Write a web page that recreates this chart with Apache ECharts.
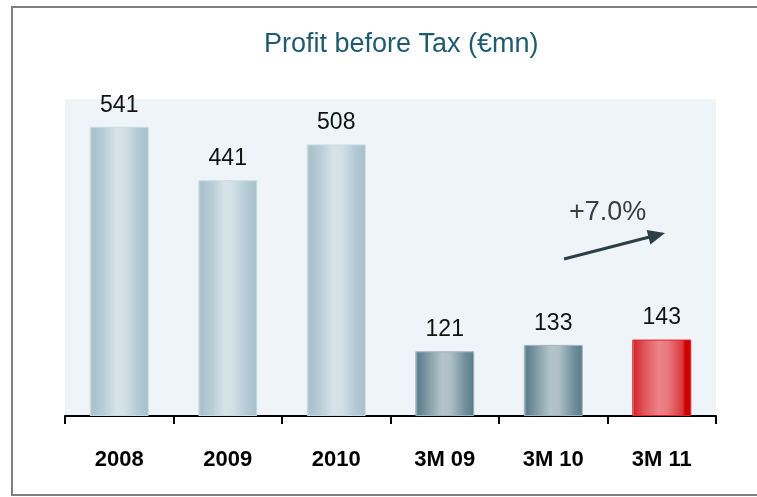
<!DOCTYPE html>
<html>
<head>
<meta charset="utf-8">
<title>Profit before Tax</title>
<script src="https://cdn.jsdelivr.net/npm/echarts@6/dist/echarts.min.js"></script>
<style>
  html, body { margin: 0; padding: 0; background: #fff; }
  #chart { width: 757px; height: 497px; }
</style>
</head>
<body>
<div id="chart"></div>
<script>
// data
const categories = ['2008', '2009', '2010', '3M 09', '3M 10', '3M 11']
const profit = [541, 441, 508, 121, 133, 143]
const growthLabel = '+7.0%'

// bar fills
const gradient = stops => ({
  type: 'linear', x: 0, y: 0, x2: 1, y2: 0,
  colorStops: stops.map(s => ({ offset: s[0], color: s[1] }))
})
const annualFill = gradient([
  [0, '#c4d6dd'], [0.05, '#a7c1cb'], [0.25, '#b9cfd8'], [0.45, '#d6e4ea'],
  [0.6, '#d2e0e6'], [0.8, '#b6ccd5'], [1, '#a5bfc9']
])
const quarterFill = gradient([
  [0, '#a9bec6'], [0.05, '#5b7f8e'], [0.2, '#7e98a3'], [0.45, '#b3c5cb'],
  [0.6, '#aebfc6'], [0.85, '#6f8e9b'], [1, '#587c8b']
])
const latestFill = gradient([
  [0, '#f2a8ac'], [0.04, '#d42a30'], [0.2, '#e0545a'], [0.45, '#ec8489'],
  [0.6, '#e8787d'], [0.85, '#d83a40'], [0.9, '#d00000'], [1, '#d00000']
])

const barData = profit.map((v, i) => {
  let fill = i < 3 ? annualFill : quarterFill
  let border = i < 3 ? '#c9dbe2' : '#9fb5be'
  if (i === profit.length - 1) { fill = latestFill; border = '#e0262c' }
  return { value: v, itemStyle: { color: fill, borderColor: border, borderWidth: 1 } }
})

// arrow geometry (annotation only)
const a0 = [564, 259], tip = [665, 233]
const dx = tip[0] - a0[0], dy = tip[1] - a0[1]
const len = Math.sqrt(dx * dx + dy * dy)
const ux = dx / len, uy = dy / len
const headL = 17, headW = 7.5
const base = [tip[0] - ux * headL, tip[1] - uy * headL]

const chart = echarts.init(document.getElementById('chart'))

chart.setOption({
  animation: false,
  title: {
    text: 'Profit before Tax (€mn)',
    left: 259,
    top: 26,
    textStyle: {
      color: '#1f5a6e',
      fontFamily: 'Liberation Sans, Arial, sans-serif',
      fontSize: 27,
      fontWeight: 'normal'
    }
  },
  grid: {
    left: 65,
    right: 41,
    top: 99,
    bottom: 81,
    show: true,
    backgroundColor: '#eef4f7',
    borderWidth: 0
  },
  xAxis: {
    type: 'category',
    data: categories,
    axisLine: { lineStyle: { color: '#000', width: 2 } },
    axisTick: { show: true, interval: 0, length: 8, lineStyle: { color: '#000', width: 2 } },
    axisLabel: {
      margin: 33,
      color: '#000',
      fontSize: 22,
      fontWeight: 'bold',
      fontFamily: 'Liberation Sans, Arial, sans-serif'
    }
  },
  yAxis: {
    type: 'value',
    min: 0,
    max: 593,
    show: false,
    splitLine: { show: false }
  },
  series: [
    {
      type: 'bar',
      data: barData,
      barWidth: 59,
      label: {
        show: true,
        position: 'top',
        distance: 10,
        color: '#111',
        fontSize: 23,
        fontFamily: 'Liberation Sans, Arial, sans-serif'
      }
    }
  ],
  graphic: [
    {
      type: 'rect',
      shape: { x: 12, y: 7, width: 760, height: 488 },
      style: { fill: 'none', stroke: '#808080', lineWidth: 2 },
      silent: true
    },
    {
      type: 'line',
      shape: { x1: a0[0], y1: a0[1], x2: base[0] + ux * 2, y2: base[1] + uy * 2 },
      style: { stroke: '#2b3f47', lineWidth: 3 },
      z: 10
    },
    {
      type: 'polygon',
      shape: {
        points: [
          tip,
          [base[0] - uy * headW, base[1] + ux * headW],
          [base[0] + uy * headW, base[1] - ux * headW]
        ]
      },
      style: { fill: '#2b3f47' },
      z: 10
    },
    {
      type: 'text',
      left: 569,
      top: 199,
      style: {
        text: growthLabel,
        fill: '#3c3c3c',
        font: '27px "Liberation Sans", Arial, sans-serif'
      },
      z: 10
    }
  ]
})
</script>
</body>
</html>
